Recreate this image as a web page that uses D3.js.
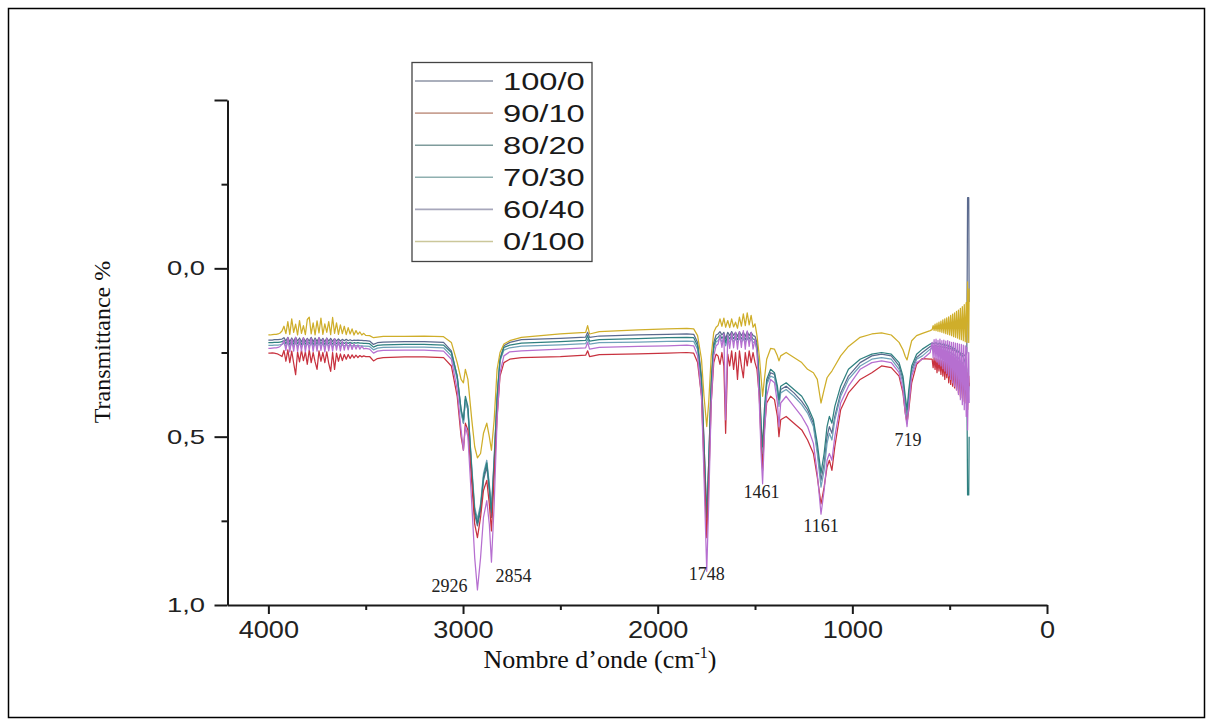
<!DOCTYPE html>
<html>
<head>
<meta charset="utf-8">
<script src="https://cdn.jsdelivr.net/npm/d3@7"></script>
<style>
  body { margin: 0; background: #fff; }
  svg { display: block; }
</style>
</head>
<body>
<svg id="chart" width="1213" height="726"></svg>
<script>
// FTIR spectra of the blends: transmittance vs wavenumber (cm-1)
const wavenumbers = [
  4000, 3990, 3980, 3970, 3960, 3950, 3940, 3930, 3920, 3910, 3900, 3890, 3880, 3870, 3860, 3850, 3840, 3830, 3820, 3810,
  3800, 3790, 3780, 3770, 3760, 3750, 3740, 3730, 3720, 3710, 3700, 3690, 3680, 3670, 3660, 3650, 3640, 3630, 3620, 3610,
  3600, 3590, 3580, 3570, 3560, 3550, 3540, 3530, 3520, 3510, 3500,
  3480, 3460, 3440, 3410, 3300, 3200, 3100, 3060, 3030, 3010, 2998, 2988, 2975, 2955, 2940, 2926, 2910, 2895, 2878, 2865, 2854, 2840, 2825, 2810, 2790, 2760, 2700, 2500, 2370, 2360, 2350, 2300, 2100, 1950, 1850,
  1815, 1795, 1775, 1762, 1748, 1738, 1725, 1712, 1700,
  1690, 1680, 1670, 1660, 1651, 1640, 1630, 1620, 1610, 1600, 1590, 1580, 1570, 1560, 1550, 1540, 1530, 1520, 1510, 1500, 1490,
  1478, 1468, 1461, 1452, 1440, 1420, 1400, 1385, 1377, 1368, 1340, 1300, 1260, 1230, 1200, 1180, 1161, 1145, 1130, 1118, 1105, 1090, 1060, 1020, 960, 900, 850, 800, 760, 740, 728, 719, 710, 695, 670, 640, 600,
  590, 585, 580, 575, 570, 565, 560, 555, 550, 545, 540, 535, 530, 525, 520, 515, 510, 505, 500, 495,
  490, 485, 480, 475, 470, 465, 460, 455, 450, 445, 440, 435, 430, 425, 420, 415, 412, 408, 402, 400
];

const t100_0 = [
  0.213, 0.213, 0.213, 0.212, 0.212, 0.212, 0.211, 0.210, 0.206, 0.216, 0.205, 0.218, 0.207, 0.217, 0.205, 0.216, 0.207, 0.218, 0.206, 0.217,
  0.208, 0.216, 0.205, 0.218, 0.207, 0.217, 0.206, 0.216, 0.208, 0.218, 0.207, 0.216, 0.208, 0.217, 0.209, 0.216, 0.210, 0.216, 0.211, 0.215,
  0.211, 0.215, 0.212, 0.215, 0.213, 0.214, 0.213, 0.214, 0.214, 0.215, 0.215,
  0.216, 0.226, 0.221, 0.219, 0.218, 0.218, 0.220, 0.245, 0.32, 0.42, 0.46, 0.39, 0.42, 0.61, 0.73, 0.765, 0.72, 0.63, 0.59, 0.66, 0.74, 0.58, 0.39, 0.27, 0.23, 0.22, 0.212, 0.208, 0.204, 0.19, 0.205, 0.201, 0.198, 0.196, 0.195,
  0.196, 0.22, 0.32, 0.52, 0.74, 0.58, 0.33, 0.22, 0.198,
  0.195, 0.188, 0.198, 0.19, 0.21, 0.19, 0.20, 0.188, 0.199, 0.19, 0.202, 0.188, 0.20, 0.19, 0.202, 0.188, 0.20, 0.19, 0.20, 0.202, 0.22,
  0.34, 0.50, 0.56, 0.45, 0.34, 0.31, 0.315, 0.36, 0.40, 0.36, 0.35, 0.37, 0.395, 0.42, 0.46, 0.54, 0.63, 0.58, 0.50, 0.47, 0.49, 0.44, 0.37, 0.32, 0.28, 0.26, 0.255, 0.26, 0.29, 0.33, 0.40, 0.44, 0.38, 0.30, 0.265, 0.25, 0.232,
  0.230, 0.231, 0.232, 0.230, 0.229, 0.232, 0.233, 0.231, 0.230, 0.234, 0.235, 0.233, 0.232, 0.236, 0.237, 0.235, 0.235, 0.239, 0.240, 0.238,
  0.239, 0.243, 0.245, 0.243, 0.244, 0.248, 0.250, 0.248, 0.249, 0.253, 0.255, 0.253, 0.254, 0.258, 0.26, 0.255, 0.25, -0.21, -0.21, 0.10
];

const t90_10 = [
  0.252, 0.252, 0.251, 0.252, 0.253, 0.255, 0.258, 0.262, 0.244, 0.276, 0.242, 0.280, 0.246, 0.282, 0.316, 0.248, 0.278, 0.243, 0.274, 0.248,
  0.285, 0.242, 0.280, 0.250, 0.278, 0.300, 0.245, 0.276, 0.250, 0.280, 0.248, 0.282, 0.306, 0.250, 0.300, 0.252, 0.276, 0.254, 0.274, 0.256,
  0.270, 0.256, 0.268, 0.257, 0.266, 0.258, 0.265, 0.259, 0.263, 0.260, 0.262,
  0.262, 0.275, 0.268, 0.265, 0.263, 0.263, 0.265, 0.29, 0.38, 0.50, 0.54, 0.46, 0.48, 0.64, 0.76, 0.80, 0.74, 0.66, 0.63, 0.70, 0.78, 0.62, 0.44, 0.32, 0.28, 0.27, 0.265, 0.262, 0.258, 0.245, 0.262, 0.256, 0.254, 0.252, 0.250,
  0.252, 0.28, 0.38, 0.58, 0.80, 0.64, 0.40, 0.28, 0.255,
  0.26, 0.285, 0.25, 0.29, 0.49, 0.255, 0.29, 0.245, 0.30, 0.25, 0.33, 0.245, 0.29, 0.325, 0.25, 0.29, 0.245, 0.28, 0.25, 0.28, 0.30,
  0.38, 0.53, 0.60, 0.48, 0.40, 0.38, 0.39, 0.44, 0.50, 0.45, 0.44, 0.46, 0.48, 0.51, 0.55, 0.62, 0.70, 0.65, 0.59, 0.57, 0.60, 0.53, 0.42, 0.37, 0.33, 0.31, 0.29, 0.295, 0.32, 0.37, 0.43, 0.46, 0.42, 0.34, 0.285, 0.268, 0.27,
  0.27, 0.295, 0.266, 0.30, 0.268, 0.31, 0.27, 0.305, 0.272, 0.315, 0.274, 0.32, 0.276, 0.33, 0.278, 0.325, 0.28, 0.34, 0.283, 0.345,
  0.286, 0.35, 0.29, 0.355, 0.293, 0.36, 0.296, 0.37, 0.30, 0.38, 0.303, 0.385, 0.306, 0.395, 0.31, 0.40, 0.31, 0.42, 0.32, 0.35
];

const t80_20 = [
  0.221, 0.221, 0.221, 0.220, 0.220, 0.220, 0.219, 0.218, 0.214, 0.224, 0.213, 0.226, 0.215, 0.225, 0.213, 0.224, 0.215, 0.226, 0.214, 0.225,
  0.216, 0.224, 0.213, 0.226, 0.215, 0.225, 0.214, 0.224, 0.216, 0.226, 0.215, 0.224, 0.216, 0.225, 0.217, 0.224, 0.218, 0.224, 0.219, 0.223,
  0.219, 0.223, 0.220, 0.223, 0.221, 0.222, 0.221, 0.222, 0.222, 0.223, 0.223,
  0.224, 0.234, 0.229, 0.227, 0.226, 0.226, 0.228, 0.25, 0.32, 0.42, 0.45, 0.38, 0.41, 0.60, 0.72, 0.757, 0.71, 0.62, 0.578, 0.65, 0.725, 0.57, 0.38, 0.27, 0.235, 0.228, 0.222, 0.218, 0.214, 0.20, 0.216, 0.212, 0.209, 0.206, 0.205,
  0.206, 0.23, 0.33, 0.52, 0.74, 0.58, 0.34, 0.23, 0.21,
  0.205, 0.198, 0.208, 0.20, 0.22, 0.20, 0.21, 0.198, 0.209, 0.20, 0.212, 0.198, 0.21, 0.20, 0.212, 0.198, 0.21, 0.20, 0.21, 0.212, 0.23,
  0.33, 0.47, 0.53, 0.42, 0.33, 0.30, 0.31, 0.35, 0.39, 0.35, 0.34, 0.36, 0.38, 0.41, 0.45, 0.52, 0.608, 0.55, 0.47, 0.44, 0.46, 0.41, 0.35, 0.30, 0.27, 0.255, 0.25, 0.255, 0.28, 0.32, 0.38, 0.42, 0.36, 0.29, 0.255, 0.24, 0.225,
  0.222, 0.223, 0.224, 0.222, 0.221, 0.224, 0.226, 0.223, 0.222, 0.226, 0.228, 0.225, 0.224, 0.229, 0.230, 0.228, 0.227, 0.232, 0.235, 0.232,
  0.232, 0.238, 0.240, 0.238, 0.240, 0.246, 0.250, 0.246, 0.248, 0.256, 0.260, 0.258, 0.264, 0.272, 0.28, 0.29, 0.30, 0.673, 0.673, 0.50
];

const t70_30 = [
  0.229, 0.229, 0.229, 0.228, 0.228, 0.228, 0.227, 0.226, 0.222, 0.232, 0.221, 0.234, 0.223, 0.233, 0.221, 0.232, 0.223, 0.234, 0.222, 0.233,
  0.224, 0.232, 0.221, 0.234, 0.223, 0.233, 0.222, 0.232, 0.224, 0.234, 0.223, 0.232, 0.224, 0.233, 0.225, 0.232, 0.226, 0.232, 0.227, 0.231,
  0.227, 0.231, 0.228, 0.231, 0.229, 0.230, 0.229, 0.230, 0.230, 0.231, 0.231,
  0.232, 0.242, 0.237, 0.235, 0.234, 0.234, 0.236, 0.26, 0.33, 0.43, 0.46, 0.39, 0.42, 0.59, 0.71, 0.745, 0.70, 0.61, 0.57, 0.64, 0.71, 0.56, 0.38, 0.275, 0.243, 0.236, 0.231, 0.227, 0.224, 0.21, 0.225, 0.221, 0.219, 0.217, 0.216,
  0.217, 0.24, 0.34, 0.54, 0.76, 0.60, 0.35, 0.24, 0.218,
  0.215, 0.207, 0.218, 0.209, 0.23, 0.209, 0.219, 0.207, 0.218, 0.209, 0.221, 0.207, 0.219, 0.209, 0.221, 0.207, 0.219, 0.209, 0.219, 0.221, 0.24,
  0.34, 0.49, 0.55, 0.44, 0.345, 0.32, 0.325, 0.37, 0.41, 0.37, 0.36, 0.38, 0.405, 0.43, 0.47, 0.55, 0.65, 0.60, 0.52, 0.49, 0.51, 0.45, 0.38, 0.33, 0.29, 0.27, 0.265, 0.27, 0.30, 0.34, 0.41, 0.45, 0.39, 0.31, 0.27, 0.26, 0.24,
  0.238, 0.239, 0.240, 0.238, 0.237, 0.240, 0.242, 0.240, 0.239, 0.243, 0.245, 0.243, 0.242, 0.246, 0.248, 0.246, 0.246, 0.250, 0.252, 0.250,
  0.251, 0.256, 0.258, 0.257, 0.260, 0.265, 0.268, 0.266, 0.270, 0.277, 0.280, 0.280, 0.287, 0.294, 0.30, 0.31, 0.32, 0.40, 0.36, 0.34
];

const t60_40 = [
  0.238, 0.238, 0.237, 0.236, 0.236, 0.235, 0.232, 0.226, 0.214, 0.244, 0.206, 0.248, 0.210, 0.246, 0.205, 0.247, 0.212, 0.245, 0.206, 0.248,
  0.210, 0.243, 0.207, 0.247, 0.212, 0.246, 0.205, 0.244, 0.211, 0.248, 0.208, 0.245, 0.213, 0.246, 0.209, 0.243, 0.214, 0.245, 0.216, 0.243,
  0.219, 0.242, 0.222, 0.241, 0.225, 0.240, 0.228, 0.240, 0.231, 0.239, 0.238,
  0.240, 0.252, 0.246, 0.244, 0.243, 0.243, 0.246, 0.27, 0.36, 0.48, 0.54, 0.47, 0.50, 0.70, 0.86, 0.955, 0.86, 0.74, 0.69, 0.76, 0.873, 0.70, 0.45, 0.31, 0.26, 0.248, 0.245, 0.24, 0.236, 0.22, 0.24, 0.235, 0.232, 0.230, 0.228,
  0.23, 0.26, 0.38, 0.62, 0.90, 0.70, 0.40, 0.26, 0.23,
  0.225, 0.200, 0.235, 0.195, 0.45, 0.20, 0.238, 0.192, 0.236, 0.190, 0.24, 0.188, 0.235, 0.185, 0.24, 0.186, 0.232, 0.19, 0.24, 0.21, 0.25,
  0.40, 0.56, 0.64, 0.50, 0.38, 0.33, 0.34, 0.40, 0.47, 0.40, 0.38, 0.41, 0.44, 0.47, 0.52, 0.61, 0.73, 0.66, 0.57, 0.55, 0.57, 0.50, 0.40, 0.35, 0.30, 0.28, 0.275, 0.28, 0.31, 0.36, 0.43, 0.47, 0.41, 0.32, 0.28, 0.27, 0.25,
  0.22, 0.265, 0.212, 0.272, 0.21, 0.278, 0.214, 0.285, 0.21, 0.29, 0.215, 0.298, 0.213, 0.305, 0.216, 0.312, 0.215, 0.32, 0.218, 0.33,
  0.22, 0.34, 0.22, 0.35, 0.222, 0.362, 0.223, 0.375, 0.225, 0.39, 0.226, 0.405, 0.228, 0.42, 0.23, 0.44, 0.235, 0.48, 0.25, 0.40
];

const t0_100 = [
  0.198, 0.198, 0.197, 0.196, 0.196, 0.195, 0.192, 0.186, 0.172, 0.194, 0.158, 0.196, 0.150, 0.190, 0.166, 0.198, 0.155, 0.193, 0.170, 0.197,
  0.152, 0.145, 0.195, 0.162, 0.198, 0.156, 0.192, 0.148, 0.196, 0.165, 0.190, 0.158, 0.197, 0.146, 0.193, 0.162, 0.196, 0.168, 0.194, 0.172,
  0.197, 0.176, 0.195, 0.180, 0.198, 0.185, 0.196, 0.189, 0.198, 0.193, 0.199,
  0.200, 0.206, 0.204, 0.202, 0.202, 0.201, 0.203, 0.22, 0.28, 0.33, 0.34, 0.30, 0.33, 0.45, 0.53, 0.563, 0.55, 0.49, 0.46, 0.50, 0.54, 0.45, 0.30, 0.25, 0.225, 0.215, 0.205, 0.195, 0.19, 0.17, 0.195, 0.188, 0.183, 0.18, 0.178,
  0.18, 0.20, 0.27, 0.38, 0.47, 0.40, 0.26, 0.19, 0.175,
  0.17, 0.150, 0.172, 0.148, 0.175, 0.155, 0.176, 0.150, 0.174, 0.160, 0.178, 0.145, 0.172, 0.135, 0.170, 0.132, 0.168, 0.140, 0.175, 0.165, 0.20,
  0.26, 0.33, 0.38, 0.33, 0.27, 0.238, 0.24, 0.26, 0.275, 0.26, 0.25, 0.265, 0.28, 0.30, 0.31, 0.33, 0.40, 0.36, 0.325, 0.315, 0.305, 0.29, 0.26, 0.232, 0.205, 0.195, 0.192, 0.198, 0.22, 0.242, 0.262, 0.272, 0.25, 0.215, 0.20, 0.193, 0.185,
  0.182, 0.170, 0.184, 0.166, 0.185, 0.163, 0.187, 0.160, 0.188, 0.157, 0.190, 0.153, 0.192, 0.150, 0.194, 0.147, 0.196, 0.144, 0.198, 0.140,
  0.200, 0.136, 0.203, 0.132, 0.205, 0.128, 0.207, 0.124, 0.210, 0.119, 0.212, 0.114, 0.215, 0.108, 0.218, 0.102, 0.22, 0.04, 0.22, 0.06
];

const seriesNames = ["100/0", "90/10", "80/20", "70/30", "60/40", "0/100"];
const seriesValues = [t100_0, t90_10, t80_20, t70_30, t60_40, t0_100];
const seriesColors = ["#5b6a8e", "#c8323f", "#2f8080", "#6ea2b8", "#b66fd0", "#cfae2a"];
const legendColors = ["#8e94a6", "#c9a294", "#7f9c9c", "#8fb0b0", "#a7a7bb", "#cbc79a"];
// drawing order: back to front
const drawOrder = [0, 3, 2, 1, 4, 5];

const xMajorTicks = [4000, 3000, 2000, 1000, 0];
const xMinorTicks = [3500, 2500, 1500, 500];
const yMajorTicks = [-0.5, 0.0, 0.5, 1.0];
const yLabelledTicks = [0.0, 0.5, 1.0];
const yMinorTicks = [-0.25, 0.25, 0.75];
const peakLabels = [2926, 2854, 1748, 1461, 1161, 719];
const peakDepths = [0.955, 0.873, 0.90, 0.64, 0.73, 0.47];

const xAxisTitle = "Nombre d\u2019onde (cm";
const yAxisTitle = "Transmittance %";

// ---- layout ----
const svg = d3.select("#chart");
const plot = { left: 227.5, right: 1047, top: 100, bottom: 605 };

const x = d3.scaleLinear().domain([4210, 0]).range([plot.left, plot.right]);
const y = d3.scaleLinear().domain([-0.5, 1.0]).range([plot.top, plot.bottom]);

// outer frame
svg.append("rect")
  .attr("x", 8.5).attr("y", 8.5).attr("width", 1196).attr("height", 709)
  .attr("fill", "none").attr("stroke", "#000").attr("stroke-width", 1.5);

// spectra
const line = d3.line()
  .x((d, i) => x(wavenumbers[i]))
  .y(d => y(d));

const curves = svg.append("g").attr("class", "curves");
drawOrder.forEach(k => {
  curves.append("path")
    .datum(seriesValues[k])
    .attr("d", line)
    .attr("fill", "none")
    .attr("stroke", seriesColors[k])
    .attr("stroke-width", 1.25)
    .attr("stroke-linejoin", "round");
});

// axes
const axisColor = "#1a1a1a";
const comma = v => d3.format(".1f")(v).replace(".", ",");

const gx = svg.append("g").attr("transform", `translate(0,${plot.bottom})`);
gx.call(d3.axisBottom(x).tickValues(xMajorTicks).tickSize(9).tickSizeOuter(0).tickPadding(8).tickFormat(d3.format("d")));
gx.append("g").call(d3.axisBottom(x).tickValues(xMinorTicks).tickSize(5).tickSizeOuter(0).tickFormat(""))
  .select(".domain").remove();
gx.selectAll("path, line").attr("stroke", axisColor).attr("stroke-width", 2);
gx.selectAll("text")
  .attr("fill", "#222")
  .style("font-family", "'Liberation Sans', Arial, sans-serif")
  .style("font-size", "23px")
  .attr("transform", "scale(1.18,1)");

const gy = svg.append("g").attr("transform", `translate(${plot.left},0)`);
gy.call(d3.axisLeft(y).tickValues(yMajorTicks).tickSize(13).tickSizeOuter(0).tickPadding(0)
  .tickFormat(v => yLabelledTicks.includes(v) ? comma(v) : ""));
gy.append("g").call(d3.axisLeft(y).tickValues(yMinorTicks).tickSize(6).tickSizeOuter(0).tickFormat(""))
  .select(".domain").remove();
gy.selectAll("path, line").attr("stroke", axisColor).attr("stroke-width", 2);
gy.selectAll("text")
  .attr("fill", "#222")
  .attr("x", -22.5 / 1.37)
  .style("font-family", "'Liberation Sans', Arial, sans-serif")
  .style("font-size", "20px")
  .attr("transform", "scale(1.37,1)");

// axis titles
svg.append("text")
  .attr("transform", `translate(110,342) rotate(-90)`)
  .attr("text-anchor", "middle")
  .style("font-family", "'Liberation Serif', 'Times New Roman', serif")
  .style("font-size", "24px")
  .attr("fill", "#111")
  .text(yAxisTitle);

const xt = svg.append("text")
  .attr("x", 600).attr("y", 668)
  .attr("text-anchor", "middle")
  .style("font-family", "'Liberation Serif', 'Times New Roman', serif")
  .style("font-size", "26px")
  .attr("fill", "#111");
xt.append("tspan").text(xAxisTitle);
xt.append("tspan").attr("dy", -10).style("font-size", "16px").text("-1");
xt.append("tspan").attr("dy", 10).text(")");

// peak annotations
const peakOffsets = [[-28, 2], [22, 20], [0, 9], [-1, 14], [0, 18], [1, 19]];
svg.append("g").selectAll("text")
  .data(peakLabels)
  .join("text")
  .attr("x", (d, i) => x(d) + peakOffsets[i][0])
  .attr("y", (d, i) => y(peakDepths[i]) + peakOffsets[i][1])
  .attr("text-anchor", "middle")
  .style("font-family", "'Liberation Serif', 'Times New Roman', serif")
  .style("font-size", "18px")
  .attr("fill", "#222")
  .text(d => d);

// legend
const legend = svg.append("g");
legend.append("rect")
  .attr("x", 412).attr("y", 62.5).attr("width", 180).attr("height", 199)
  .attr("fill", "#fff").attr("stroke", "#444").attr("stroke-width", 1.3);
seriesNames.forEach((name, i) => {
  const ly = 81 + 32.1 * i;
  legend.append("line")
    .attr("x1", 415).attr("x2", 493).attr("y1", ly).attr("y2", ly)
    .attr("stroke", legendColors[i]).attr("stroke-width", 1.6);
  legend.append("text")
    .attr("transform", `translate(503,${ly + 8.5}) scale(1.42,1)`)
    .style("font-family", "'Liberation Sans', Arial, sans-serif")
    .style("font-size", "23px")
    .attr("fill", "#1a1a1a")
    .text(name);
});
</script>
</body>
</html>
